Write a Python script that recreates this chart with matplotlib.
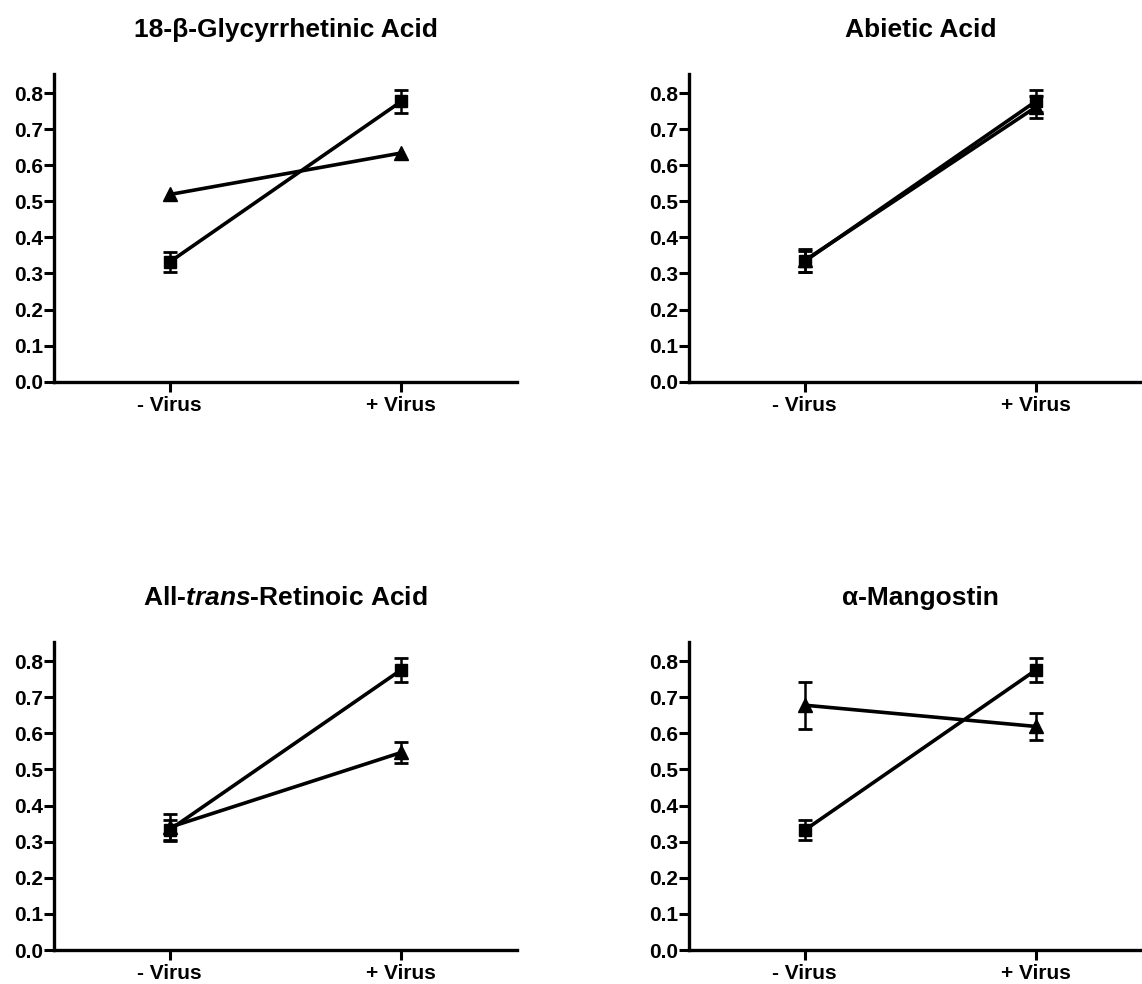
import matplotlib
matplotlib.use("Agg")
import matplotlib.pyplot as plt

plt.rcParams['font.family'] = ['Liberation Sans', 'DejaVu Sans']
plt.rcParams['mathtext.fontset'] = 'custom'
plt.rcParams['mathtext.it'] = 'Liberation Sans:italic:bold'
plt.rcParams['mathtext.rm'] = 'Liberation Sans:bold'

conditions = ['- Virus', '+ Virus']
titles = ['18-\u03b2-Glycyrrhetinic Acid', 'Abietic Acid',
          r'All-$\mathit{trans}$-Retinoic Acid', '\u03b1-Mangostin']

# control (squares)
ctrl_ga = [0.332, 0.777]
ctrl_ga_err = [0.028, 0.033]
ctrl_ab = [0.334, 0.778]
ctrl_ab_err = [0.029, 0.031]
ctrl_atra = [0.333, 0.776]
ctrl_atra_err = [0.028, 0.033]
ctrl_mg = [0.332, 0.776]
ctrl_mg_err = [0.028, 0.033]

# compound treated (triangles)
trt_ga = [0.519, 0.634]
trt_ga_err = [0.006, 0.006]
trt_ab = [0.336, 0.762]
trt_ab_err = [0.031, 0.030]
trt_atra = [0.340, 0.547]
trt_atra_err = [0.038, 0.028]
trt_mg = [0.678, 0.619]
trt_mg_err = [0.065, 0.037]

panels = [
    (ctrl_ga, ctrl_ga_err, trt_ga, trt_ga_err),
    (ctrl_ab, ctrl_ab_err, trt_ab, trt_ab_err),
    (ctrl_atra, ctrl_atra_err, trt_atra, trt_atra_err),
    (ctrl_mg, ctrl_mg_err, trt_mg, trt_mg_err),
]

W, H = 1142, 984
fig = plt.figure(figsize=(W / 100, H / 100), dpi=100)

# axes geometry in pixels: (left, y of zero, width, top y)
geo = [(54, 381.7, 463, 74), (689, 381.7, 463, 74),
       (54, 950, 463, 642), (689, 950, 463, 642)]

lw = 2.6
x = [0, 1]


def visible_err(err):
    # error bars shorter than the symbol are hidden (as in the source graph)
    return [e if e >= 0.015 else 0.0 for e in err]


for i, ((cm, ce, tm, te), (l, b, w, t)) in enumerate(zip(panels, geo)):
    ax = fig.add_axes([l / W, 1 - b / H, w / W, (b - t) / H])
    for mean, err, mk, ms in [(cm, ce, 's', 9), (tm, te, '^', 10.5)]:
        ax.plot(x, mean, color='black', lw=lw, marker=mk, ms=ms, zorder=3)
        ve = visible_err(err)
        for xi, mi, ei in zip(x, mean, ve):
            if ei > 0:
                ax.errorbar([xi], [mi], yerr=[ei], fmt='none', ecolor='black',
                            capsize=5, capthick=2.0, elinewidth=1.8, zorder=2)
    ax.set_xlim(-0.5, 1.5)
    ax.set_ylim(0, 0.853)
    ax.set_yticks([0.0, 0.1, 0.2, 0.3, 0.4, 0.5, 0.6, 0.7, 0.8])
    ax.set_yticklabels([f'{v:.1f}' for v in ax.get_yticks()])
    ax.set_xticks(x)
    ax.set_xticklabels(conditions)
    for s in ['top', 'right']:
        ax.spines[s].set_visible(False)
    for s in ['left', 'bottom']:
        ax.spines[s].set_linewidth(2.4)
    ax.tick_params(axis='y', length=7, width=2.2, pad=1, labelsize=15)
    ax.tick_params(axis='x', length=7, width=2.2, pad=3, labelsize=15)
    for lab in ax.get_xticklabels() + ax.get_yticklabels():
        lab.set_fontweight('bold')
    cx = (l + l + w) / 2
    fig.text(cx / W, 1 - (t - 37) / H, titles[i], ha='center', va='baseline',
             fontsize=19, fontweight='bold')

fig.savefig('out.png', dpi=100)
